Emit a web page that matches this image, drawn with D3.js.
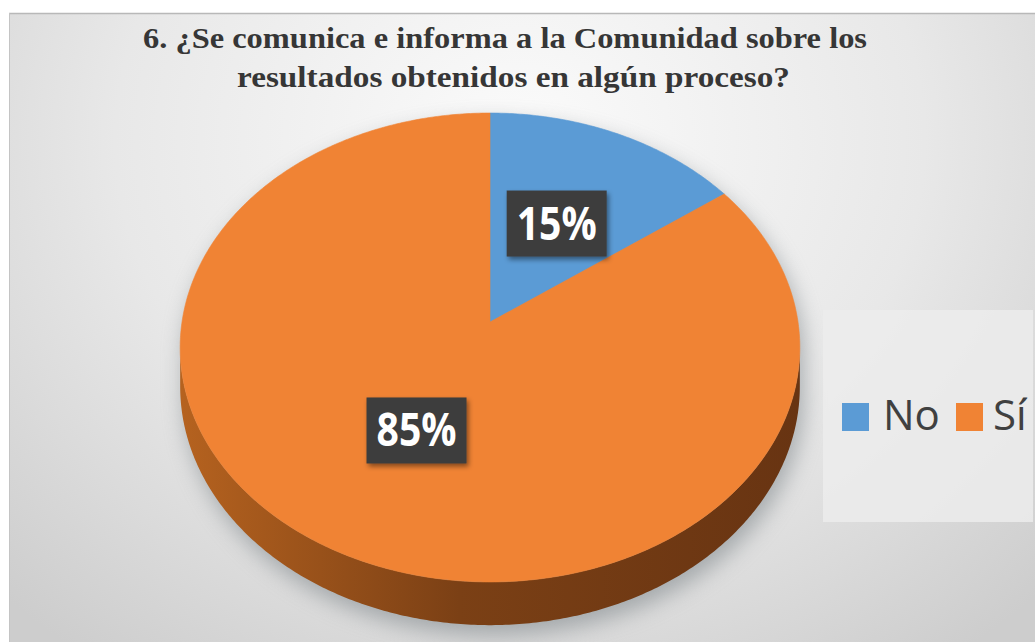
<!DOCTYPE html>
<html>
<head>
<meta charset="utf-8">
<script src="https://cdn.jsdelivr.net/npm/d3@7"></script>
<style>
  html, body { margin: 0; padding: 0; background: #ffffff; }
  svg { display: block; }
</style>
</head>
<body>
<svg id="chart" width="1035" height="642"></svg>
<script>
// ---- data ----
const titleLines = ["6. ¿Se comunica e informa a la Comunidad sobre los", "resultados obtenidos en algún proceso?"];
const categories = ["No", "Sí"];
const values = [15, 85];
const valueLabels = ["15%", "85%"];
const colors = ["#5b9bd5", "#f08334"];
const sideColors = [["#3f78ad", "#2f5f8d"], ["#b5621f", "#683412"]];

const W = 1035, H = 642;
const svg = d3.select("#chart");
const defs = svg.append("defs");

// background gradient
const bg = defs.append("radialGradient").attr("id", "bgGrad")
  .attr("gradientUnits", "userSpaceOnUse")
  .attr("cx", 520).attr("cy", 140).attr("r", 640)
  .attr("gradientTransform", "translate(520,140) scale(1.15,1) translate(-520,-140)");
bg.append("stop").attr("offset", 0).attr("stop-color", "#fbfbfb");
bg.append("stop").attr("offset", 0.55).attr("stop-color", "#e8e8e8");
bg.append("stop").attr("offset", 1).attr("stop-color", "#cdcdcd");

svg.append("rect").attr("x", 9).attr("y", 13).attr("width", W - 9).attr("height", H - 13)
  .attr("fill", "url(#bgGrad)");
svg.append("line").attr("x1", 9).attr("x2", W).attr("y1", 13.5).attr("y2", 13.5)
  .attr("stroke", "#b8b8b8").attr("stroke-width", 1.5);
svg.append("line").attr("x1", 9.5).attr("x2", 9.5).attr("y1", 13).attr("y2", H)
  .attr("stroke", "#c4c4c4").attr("stroke-width", 1);

// ---- perspective pie geometry ----
const cx = 490, cy = 322, a = 308, b = 231.7, p = 0.1087, depth = 38.5;
function proj(theta, r, dz) {
  const c = Math.cos(theta) * r, s = Math.sin(theta) * r;
  const k = 1 / (1 + p * c);
  return [cx + a * s * k, cy - b * c * k + (dz || 0) * k];
}
function rimPts(a0, a1, dz) {
  const n = Math.max(2, Math.ceil(Math.abs(a1 - a0) / 0.01));
  return d3.range(n + 1).map(i => proj(a0 + (a1 - a0) * i / n, 1, dz));
}
const line = d3.line();

const pie = d3.pie().sort(null).startAngle(0).endAngle(2 * Math.PI);
const arcs = pie(values);

// shadow
const shadowF = defs.append("filter").attr("id", "shadowBlur")
  .attr("x", "-30%").attr("y", "-30%").attr("width", "160%").attr("height", "160%");
shadowF.append("feGaussianBlur").attr("stdDeviation", 11);
const thR = Math.acos(-p), thL = 2 * Math.PI - Math.acos(-p);
const outline = rimPts(thL - 2 * Math.PI, thR, 0).concat(rimPts(thR, thL, depth));
svg.append("path")
  .attr("d", line(outline) + "Z")
  .attr("transform", "translate(4,10)")
  .attr("fill", "#7d8488").attr("opacity", 0.6)
  .attr("filter", "url(#shadowBlur)");

// side gradients
arcs.forEach((d, i) => {
  const g = defs.append("linearGradient").attr("id", "side" + i)
    .attr("gradientUnits", "userSpaceOnUse")
    .attr("x1", cx - a).attr("x2", cx + a).attr("y1", 0).attr("y2", 0);
  g.append("stop").attr("offset", 0).attr("stop-color", sideColors[i][0]);
  g.append("stop").attr("offset", 0.45).attr("stop-color", d3.interpolate(sideColors[i][0], sideColors[i][1])(0.75));
  g.append("stop").attr("offset", 1).attr("stop-color", sideColors[i][1]);
});

// side faces (front half only)
arcs.forEach((d, i) => {
  const s0 = Math.max(d.startAngle, thR), s1 = Math.min(d.endAngle, thL);
  if (s1 <= s0) return;
  const pts = rimPts(s0, s1, 0).concat(rimPts(s1, s0, depth));
  svg.append("path").attr("d", line(pts) + "Z").attr("fill", "url(#side" + i + ")");
});

// top faces
arcs.forEach((d, i) => {
  const pts = [proj(0, 0)].concat(rimPts(d.startAngle, d.endAngle, 0));
  svg.append("path").attr("d", line(pts) + "Z")
    .attr("fill", colors[i])
    .attr("stroke", colors[i]).attr("stroke-width", 0.6);
});

// data labels
const lblF = defs.append("filter").attr("id", "lblShadow")
  .attr("x", "-20%").attr("y", "-20%").attr("width", "150%").attr("height", "160%");
lblF.append("feDropShadow").attr("dx", 2).attr("dy", 3).attr("stdDeviation", 2.5)
  .attr("flood-color", "#000").attr("flood-opacity", 0.45);
arcs.forEach((d, i) => {
  const mid = (d.startAngle + d.endAngle) / 2;
  const [lx, ly] = proj(mid, 0.5, 0);
  const g = svg.append("g").attr("transform", `translate(${lx},${ly})`);
  g.append("rect").attr("x", -50).attr("y", -33).attr("width", 100).attr("height", 66)
    .attr("fill", "#3c3c3c").attr("filter", "url(#lblShadow)");
  g.append("text").attr("x", 0).attr("y", 16).attr("text-anchor", "middle")
    .attr("font-family", "'Open Sans', sans-serif").attr("font-weight", 700)
    .attr("font-size", 46).attr("fill", "#ffffff")
    .attr("textLength", 80).attr("lengthAdjust", "spacingAndGlyphs")
    .text(valueLabels[i]);
});

// title (condensed, tall serif)
const titleX = [143, 237], titleY = [48, 87], titleW = [724, 553];
titleLines.forEach((t, i) => {
  svg.append("g").attr("transform", `translate(${titleX[i]},${titleY[i]}) scale(1,1.22)`)
    .append("text").attr("x", 0).attr("y", 0)
    .attr("font-family", "'Liberation Serif', 'Times New Roman', serif")
    .attr("font-weight", 700).attr("font-size", 25).attr("fill", "#363636")
    .attr("textLength", titleW[i]).attr("lengthAdjust", "spacingAndGlyphs")
    .text(t);
});

// legend
svg.append("rect").attr("x", 823).attr("y", 310).attr("width", 210).attr("height", 212)
  .attr("fill", "#ececec").attr("opacity", 0.85);
const legX = [842, 956], legTX = [883, 993];
categories.forEach((c, i) => {
  svg.append("rect").attr("x", legX[i]).attr("y", 403).attr("width", 27).attr("height", 28)
    .attr("fill", colors[i]);
  svg.append("text").attr("x", legTX[i]).attr("y", 430)
    .attr("font-family", "'Open Sans', sans-serif").attr("font-size", 42).attr("fill", "#404040")
    .text(c);
});
</script>
</body>
</html>
